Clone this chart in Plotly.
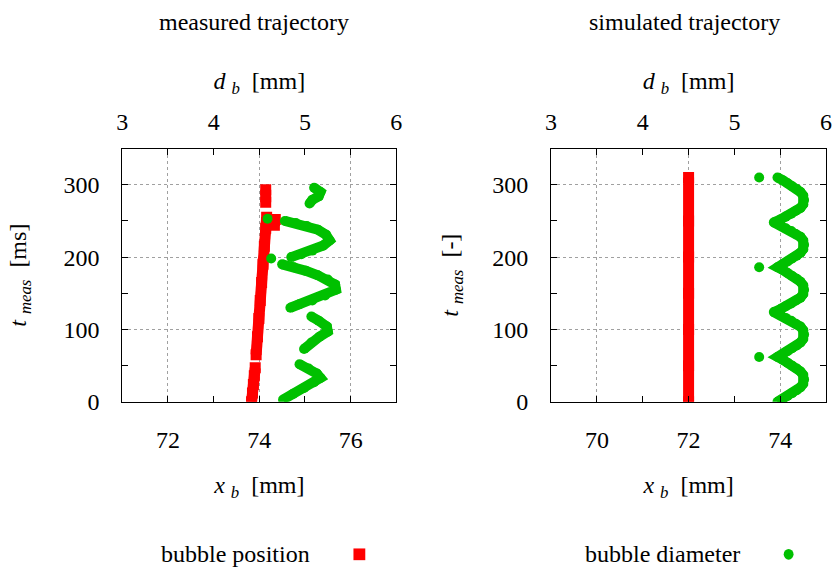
import plotly.graph_objects as go

# ---------------- data ----------------
# measured trajectory: bubble position x_b [mm] vs t_meas [ms]  (None = break)
meas_pos_t = [0, 12, 24, 36, 47, None,
              65, 90, 115, 140, 165, 190, 215, 240, 255, None,
              244, 252, None,
              276, 293]
meas_pos_x = [73.83, 73.85, 73.87, 73.89, 73.91, None,
              73.93, 73.96, 73.99, 74.02, 74.05, 74.08, 74.11, 74.14, 74.16, None,
              74.33, 74.35, None,
              74.14, 74.14]

# measured trajectory: bubble diameter d_b [mm] vs t_meas [ms]
meas_dia_t = [3, 11, 19, 27, 33, 39, 46, 52, None,
              73, 82, 90, 97, 104, 112, 118, None,
              130, 135, 140, 147, 155, 162, 169, 175, 181, 186, 190, None,
              198, None,
              200, 204, 209, 216, 223, 231, 238, 243, 247, 250, None,
              253, None,
              274, 279, 284, 290, 296]
meas_dia_d = [4.76, 4.87, 4.99, 5.10, 5.17, 5.13, 5.04, 4.94, None,
              4.99, 5.07, 5.16, 5.25, 5.24, 5.15, 5.07, None,
              4.84, 4.94, 5.08, 5.22, 5.34, 5.33, 5.25, 5.14, 5.01, 4.88, 4.75, None,
              4.63, None,
              4.85, 4.96, 5.08, 5.20, 5.27, 5.23, 5.14, 5.02, 4.90, 4.78, None,
              4.59, None,
              5.05, 5.08, 5.15, 5.17, 5.10]

# simulated trajectory: bubble position x_b [mm] vs t [-]
sim_pos_t = [0, 50, 100, 150, 200, 250, 310]
sim_pos_x = [72.0, 72.0, 72.0, 72.0, 72.0, 72.0, 72.0]

# simulated trajectory: bubble diameter d_b [mm] vs t [-]
sim_dia_t = [62, None, 186, None, 310, None,
             0, 4, 8, 12, 16, 20, 25, 31, 37, 42, 46, 50, 54, 58, 62,
             66, 70, 74, 78, 82, 87, 93, 99, 104, 108, 112, 116, 120, 124,
             128, 132, 136, 140, 144, 149, 155, 161, 166, 170, 174, 178, 182, 186,
             190, 194, 198, 202, 206, 211, 217, 223, 228, 232, 236, 240, 244, 248,
             252, 256, 260, 264, 268, 273, 279, 285, 290, 294, 298, 302, 306, 310]
sim_dia_d = [5.27, None, 5.27, None, 5.27, None,
             5.47, 5.53, 5.58, 5.63, 5.68, 5.72, 5.75, 5.76, 5.75, 5.72, 5.68, 5.63, 5.58, 5.53, 5.47,
             5.53, 5.58, 5.63, 5.68, 5.72, 5.75, 5.76, 5.75, 5.72, 5.67, 5.62, 5.56, 5.50, 5.43,
             5.50, 5.56, 5.62, 5.67, 5.72, 5.75, 5.76, 5.75, 5.72, 5.68, 5.63, 5.58, 5.53, 5.47,
             5.53, 5.58, 5.63, 5.68, 5.72, 5.75, 5.76, 5.75, 5.72, 5.67, 5.62, 5.56, 5.50, 5.43,
             5.50, 5.56, 5.62, 5.67, 5.72, 5.75, 5.76, 5.75, 5.72, 5.68, 5.63, 5.58, 5.53, 5.47]

panel_titles = ["measured trajectory", "simulated trajectory"]
legend_labels = ["bubble position", "bubble diameter"]

# ---------------- styling ----------------
RED = "#ff0000"
GREEN = "#00c000"
FONT = "Liberation Serif, Times New Roman, serif"
FS = 24
W, H = 838, 581

def px_x(p):
    return p / W

def px_y(p):
    return 1 - p / H

L_DOM = [px_x(118), px_x(396)]
R_DOM = [px_x(553), px_x(832)]
Y_DOM = [px_y(411), px_y(152)]

fig = go.Figure()

def strip(x, y, xa, ya, color, symbol, size, name):
    return go.Scatter(x=x, y=y, xaxis=xa, yaxis=ya, mode="lines+markers",
                      line=dict(color=color, width=size),
                      marker=dict(color=color, symbol=symbol, size=size, line=dict(width=0)),
                      connectgaps=False, name=name, showlegend=False)

fig.add_trace(strip(meas_pos_x, meas_pos_t, "x", "y", RED, "square", 11, legend_labels[0]))
fig.add_trace(strip(meas_dia_d, meas_dia_t, "x2", "y", GREEN, "circle", 10, legend_labels[1]))
fig.add_trace(strip(sim_pos_x, sim_pos_t, "x3", "y2", RED, "square", 11, legend_labels[0]))
fig.add_trace(strip(sim_dia_d, sim_dia_t, "x4", "y2", GREEN, "circle", 10, legend_labels[1]))

tickfont = dict(family=FONT, size=FS, color="black")
grid = dict(showgrid=True, gridcolor="#a0a0a0", griddash="dot", gridwidth=1)
common = dict(showline=True, linecolor="black", linewidth=1, ticks="inside",
              ticklen=6, tickcolor="black", tickfont=tickfont, zeroline=False,
              fixedrange=True)
minor_x = dict(ticks="inside", ticklen=6, tickcolor="black", showgrid=False)

XB = "<i>x</i>&nbsp;<sub><i>b</i></sub>&nbsp;&nbsp;[mm]"
DB = "<i>d</i>&nbsp;<sub><i>b</i></sub>&nbsp;&nbsp;[mm]"

def xb_title():
    return dict(text=XB, font=tickfont, standoff=24)

def db_title():
    return dict(text=DB, font=tickfont, standoff=12)

fig.update_layout(
    width=W, height=H, margin=dict(l=0, r=0, t=0, b=0),
    paper_bgcolor="white", plot_bgcolor="white",
    font=dict(family=FONT, size=FS, color="black"),
    showlegend=False,
    xaxis=dict(domain=L_DOM, range=[71, 77], anchor="y", side="bottom",
               tick0=72, dtick=2, minor=dict(dtick=1, **minor_x), ticklabelstandoff=16,
               title=xb_title(), **grid, **common),
    xaxis2=dict(domain=L_DOM, range=[3, 6], anchor="y", overlaying="x", side="top",
                tick0=3, dtick=1, minor=dict(dtick=0.5, **minor_x), ticklabelstandoff=8,
                showgrid=False, title=db_title(), **common),
    yaxis=dict(domain=Y_DOM, range=[0, 350], anchor="x", mirror="ticks",
               tick0=0, dtick=100, minor=dict(dtick=50, **minor_x), ticklabelstandoff=17,
               title=dict(text="<i>t</i>&nbsp;<sub><i>meas</i></sub>&nbsp;&nbsp;[ms]", font=tickfont, standoff=30),
               **grid, **common),
    xaxis3=dict(domain=R_DOM, range=[69, 75], anchor="y2", side="bottom",
                tick0=70, dtick=2, minor=dict(dtick=1, **minor_x), ticklabelstandoff=16,
                title=xb_title(), **grid, **common),
    xaxis4=dict(domain=R_DOM, range=[3, 6], anchor="y2", overlaying="x3", side="top",
                tick0=3, dtick=1, minor=dict(dtick=0.5, **minor_x), ticklabelstandoff=8,
                showgrid=False, title=db_title(), **common),
    yaxis2=dict(domain=Y_DOM, range=[0, 350], anchor="x3", mirror="ticks",
                tick0=0, dtick=100, minor=dict(dtick=50, **minor_x), ticklabelstandoff=17,
                title=dict(text="<i>t</i>&nbsp;<sub><i>meas</i></sub>&nbsp;&nbsp;[-]", font=tickfont, standoff=26),
                **grid, **common),
    annotations=[
        dict(text=panel_titles[0], x=px_x(252), y=px_y(23), xref="paper", yref="paper",
             showarrow=False, font=tickfont, xanchor="center", yanchor="middle"),
        dict(text=panel_titles[1], x=px_x(688), y=px_y(23), xref="paper", yref="paper",
             showarrow=False, font=tickfont, xanchor="center", yanchor="middle"),
        # key labels (gnuplot-style key: text left of the sample)
        dict(text=legend_labels[0], x=px_x(310), y=px_y(567), xref="paper", yref="paper",
             showarrow=False, font=tickfont, xanchor="right", yanchor="middle"),
        dict(text=legend_labels[1], x=px_x(747), y=px_y(567), xref="paper", yref="paper",
             showarrow=False, font=tickfont, xanchor="right", yanchor="middle"),
    ],
    shapes=[
        # key samples
        dict(type="rect", xref="paper", yref="paper",
             x0=px_x(352.5), x1=px_x(364.5), y0=px_y(573), y1=px_y(561),
             fillcolor=RED, line=dict(width=0)),
        dict(type="circle", xref="paper", yref="paper",
             x0=px_x(789), x1=px_x(799), y0=px_y(572.5), y1=px_y(561.5),
             fillcolor=GREEN, line=dict(width=0)),
    ],
)

fig.write_html("out.html")
